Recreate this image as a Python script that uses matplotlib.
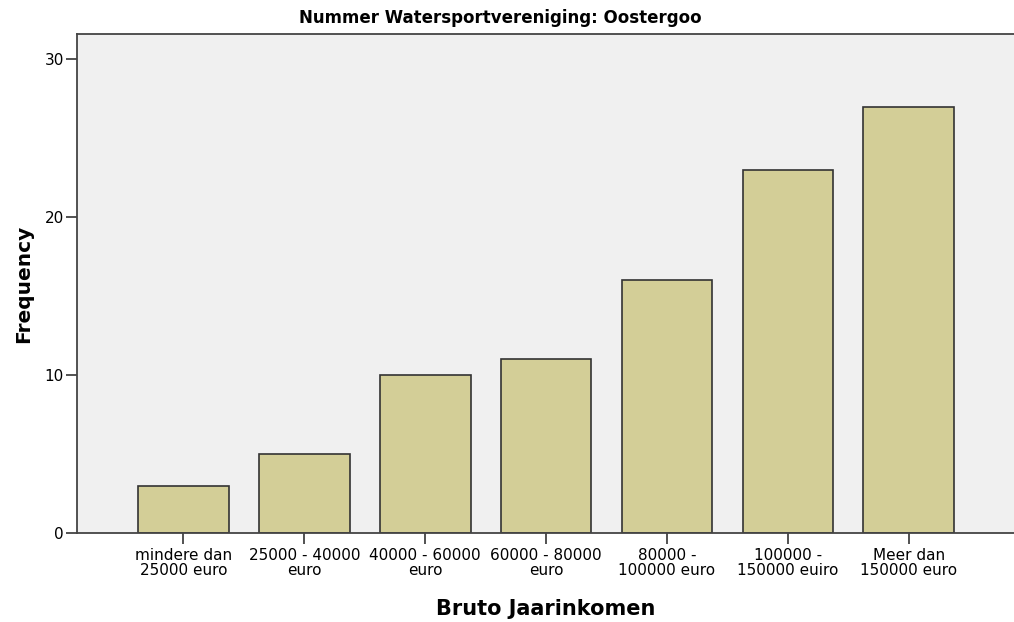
import matplotlib.pyplot as plt

plt.rcParams['font.family'] = ['DejaVu Sans']

categories = ["mindere dan\n25000 euro", "25000 - 40000\neuro", "40000 - 60000\neuro",
              "60000 - 80000\neuro", "80000 -\n100000 euro", "100000 -\n150000 euiro",
              "Meer dan\n150000 euro"]
frequency = [3, 5, 10, 11, 16, 23, 27]
yticks = [0, 10, 20, 30]

fig = plt.figure(figsize=(10.14, 6.22), dpi=100)
ax = fig.add_axes([77 / 1014, 1 - 533 / 622, 1 - 77 / 1014, (533 - 34) / 622])
ax.set_facecolor('#f0f0f0')

x = range(len(categories))
ax.bar(x, frequency, width=0.75, color='#d3ce97', edgecolor='#333333', linewidth=1.2, zorder=2)

ax.set_xlim(-0.88, 6.87)
ax.set_ylim(0, 31.6)
ax.set_yticks(yticks)
ax.set_xticks(list(x))
ax.set_xticklabels(categories, fontsize=11, linespacing=1.0)
ax.tick_params(axis='both', direction='out', length=8, width=1.2, color='#333333', labelsize=11)
ax.tick_params(axis='y', pad=1.5)
ax.tick_params(axis='x', pad=3)

for side in ['left', 'top', 'bottom']:
    ax.spines[side].set_color('#444444')
    ax.spines[side].set_linewidth(1.3)
ax.spines['right'].set_visible(False)

ax.set_ylabel('Frequency', fontsize=14.5, fontweight='bold', labelpad=8)
ax.set_xlabel('Bruto Jaarinkomen', fontsize=15, fontweight='bold', labelpad=15)
fig.text(500 / 1014, 1 - 18 / 622, 'Nummer Watersportvereniging: Oostergoo',
         ha='center', va='center', fontsize=12, fontweight='bold')

fig.savefig('out.png', dpi=100)
